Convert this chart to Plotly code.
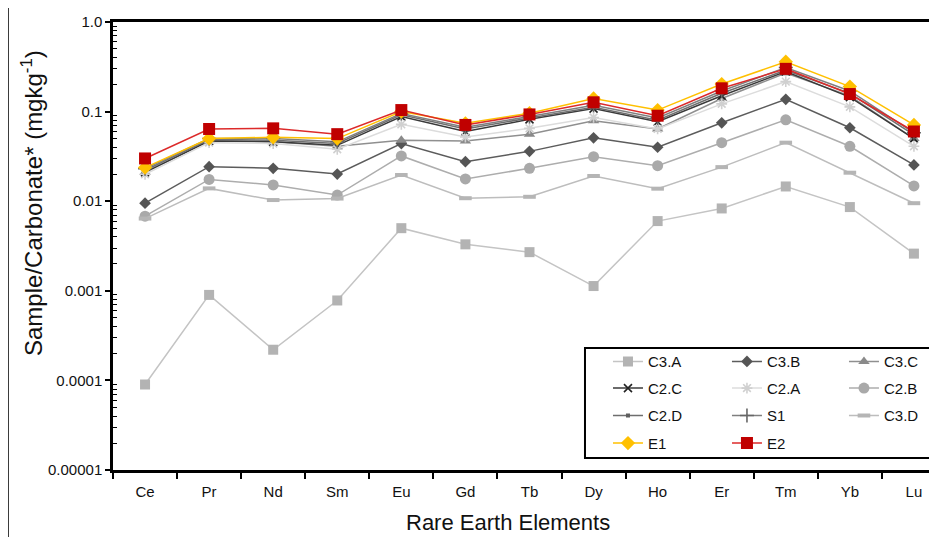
import plotly.graph_objects as go

# Rare earth elements (x categories)
elements = ["Ce", "Pr", "Nd", "Sm", "Eu", "Gd", "Tb", "Dy", "Ho", "Er", "Tm", "Yb", "Lu"]

# Sample / carbonate* ratios (mg/kg)
c3a = [0.00009, 0.0009, 0.00022, 0.00078, 0.005, 0.0033, 0.0027, 0.00113, 0.006, 0.0083, 0.0146, 0.0086, 0.0026]
c3b = [0.0095, 0.0243, 0.0233, 0.0201, 0.044, 0.0276, 0.036, 0.051, 0.040, 0.075, 0.137, 0.066, 0.0254]
c3c = [0.021, 0.048, 0.046, 0.041, 0.048, 0.047, 0.056, 0.079, 0.064, 0.14, 0.27, 0.15, 0.05]
c2c = [0.021, 0.047, 0.046, 0.042, 0.088, 0.060, 0.082, 0.108, 0.077, 0.15, 0.28, 0.145, 0.050]
c2a = [0.020, 0.045, 0.044, 0.038, 0.072, 0.052, 0.065, 0.086, 0.064, 0.122, 0.216, 0.113, 0.041]
c2b = [0.0068, 0.0175, 0.0152, 0.0117, 0.032, 0.0177, 0.0233, 0.0314, 0.0249, 0.045, 0.081, 0.041, 0.0148]
c2d = [0.022, 0.049, 0.048, 0.044, 0.092, 0.064, 0.085, 0.112, 0.080, 0.16, 0.29, 0.16, 0.055]
s1 = [0.023, 0.050, 0.050, 0.046, 0.095, 0.067, 0.088, 0.118, 0.085, 0.17, 0.31, 0.17, 0.058]
c3d = [0.0064, 0.0139, 0.0103, 0.0107, 0.0196, 0.0108, 0.0112, 0.0191, 0.0138, 0.024, 0.045, 0.0208, 0.0095]
e1 = [0.0237, 0.050, 0.0517, 0.050, 0.100, 0.074, 0.096, 0.140, 0.104, 0.203, 0.36, 0.19, 0.071]
e2 = [0.030, 0.064, 0.065, 0.056, 0.104, 0.071, 0.093, 0.127, 0.090, 0.182, 0.30, 0.157, 0.060]

# y-axis tick labels
y_tickvals = [0.00001, 0.0001, 0.001, 0.01, 0.1, 1.0]
y_ticktext = ["0.00001", "0.0001", "0.001", "0.01", "0.1", "1.0"]

FONT = "Liberation Sans, Arial, sans-serif"
TXT = "#111111"

# legend grid inside the framed box (paper coords): 3 columns x 4 rows
col_x = [0.6007, 0.7451, 0.8871]
row_y = [0.2417, 0.1823, 0.1212, 0.0596]

# name, data, line colour, marker symbol, marker colour, marker size, (col, row)
series = [
    ("C3.A", c3a, "#c4c4c4", "square", "#b3b3b3", 10, (0, 0)),
    ("C3.B", c3b, "#5c5c5c", "diamond", "#555555", 9, (1, 0)),
    ("C3.C", c3c, "#8f8f8f", "triangle-up", "#8a8a8a", 10, (2, 0)),
    ("C2.C", c2c, "#3a3a3a", "x-thin-open", "#222222", 8, (0, 1)),
    ("C2.A", c2a, "#dcdcdc", "asterisk-open", "#d0d0d0", 9, (1, 1)),
    ("C2.B", c2b, "#adadad", "circle", "#a9a9a9", 11, (2, 1)),
    ("C2.D", c2d, "#6e6e6e", "square", "#5e5e5e", 4, (0, 2)),
    ("S1", s1, "#7f7f7f", "cross-thin-open", "#666666", 10, (1, 2)),
    ("C3.D", c3d, "#bdbdbd", "line-ew-open", "#b5b5b5", 9, (2, 2)),
    ("E1", e1, "#ffc000", "diamond", "#ffc000", 11, (0, 3)),
    ("E2", e2, "#dc2a2a", "square", "#c00000", 12, (1, 3)),
]

fig = go.Figure()
legends = {}

for i, (name, vals, lcol, sym, mcol, msize, (cx, ry)) in enumerate(series):
    leg = "legend" if i == 0 else f"legend{i + 1}"
    marker = dict(symbol=sym, color=mcol, size=msize)
    if sym.endswith("-open"):
        marker["line"] = dict(color=mcol, width=4 if sym.startswith("line") else 1.6)
    fig.add_trace(
        go.Scatter(
            x=elements,
            y=vals,
            mode="lines+markers",
            name=name,
            line=dict(color=lcol, width=1.5),
            marker=marker,
            legend=leg,
        )
    )
    legends[leg] = dict(
        x=col_x[cx],
        y=row_y[ry],
        xanchor="left",
        yanchor="middle",
        bgcolor="rgba(0,0,0,0)",
        borderwidth=0,
        font=dict(family=FONT, size=15, color=TXT),
    )

# minor tick positions for the log axis
minor_vals = [k * 10.0 ** e for e in range(-5, 0) for k in range(2, 10)]

# the page adds an 8px body margin, so the figure is 8px smaller than the window
fig.update_layout(
    width=929,
    height=529,
    margin=dict(l=105, r=0, t=14, b=67),
    paper_bgcolor="white",
    plot_bgcolor="white",
    font=dict(family=FONT, size=15, color=TXT),
    showlegend=True,
    xaxis=dict(
        type="category",
        range=[-0.5, 12.36],
        showgrid=False,
        zeroline=False,
        showline=True,
        linecolor="black",
        linewidth=2.5,
        mirror=True,
        ticks="outside",
        tickson="boundaries",
        ticklen=6,
        tickwidth=1.5,
        tickcolor="black",
        ticklabelstandoff=6,
        tickfont=dict(family=FONT, size=15, color=TXT),
    ),
    yaxis=dict(
        type="log",
        range=[-5, 0],
        showgrid=False,
        zeroline=False,
        showline=True,
        linecolor="black",
        linewidth=2.5,
        ticks="outside",
        ticklen=5,
        tickwidth=1.5,
        tickcolor="black",
        tickvals=y_tickvals,
        ticktext=y_ticktext,
        tickfont=dict(family=FONT, size=15, color=TXT),
        minor=dict(tickvals=minor_vals, ticks="inside", ticklen=4, tickwidth=1, tickcolor="black"),
    ),
    annotations=[
        dict(text="Rare Earth Elements", xref="paper", yref="paper", x=0.479, y=-0.1183,
             xanchor="center", yanchor="middle", showarrow=False,
             font=dict(family=FONT, size=22, color=TXT)),
        dict(text="Sample/Carbonate* (mgkg<sup>-1</sup>)", xref="paper", yref="paper",
             x=-0.0983, y=0.596, textangle=-90, xanchor="center", yanchor="middle",
             showarrow=False, font=dict(family=FONT, size=24, color=TXT)),
    ],
    shapes=[
        # legend frame
        dict(type="rect", xref="paper", yref="paper", x0=0.5728, x1=1.02, y0=0.0268, y1=0.2723,
             line=dict(color="black", width=2), fillcolor="rgba(0,0,0,0)", layer="above"),
        # page edge line on the left
        dict(type="line", xref="paper", yref="paper", x0=-0.1274, x1=-0.1274, y0=-0.2, y1=1.1,
             line=dict(color="black", width=1.5)),
    ],
    **legends,
)

fig.write_html("out.html")
